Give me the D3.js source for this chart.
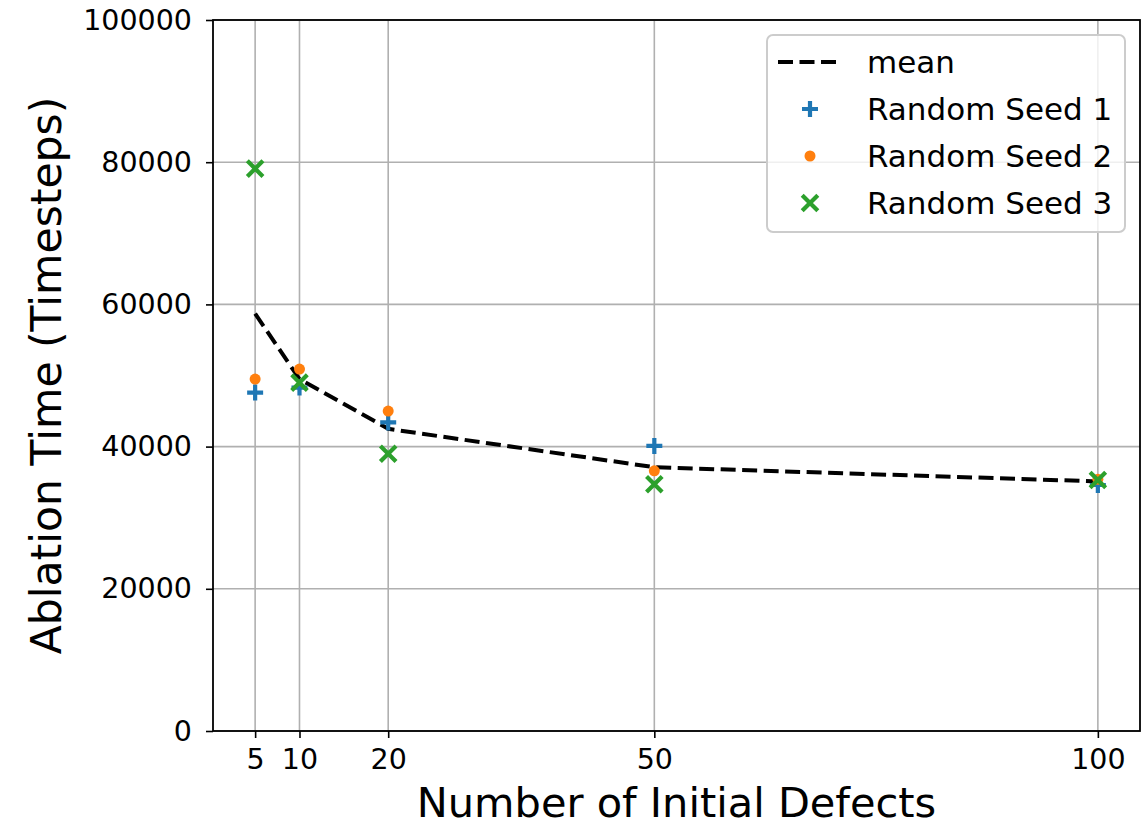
<!DOCTYPE html>
<html>
<head>
<meta charset="utf-8">
<script src="https://cdn.jsdelivr.net/npm/d3@7"></script>
<style>
  html, body { margin: 0; padding: 0; background: #fff; }
  svg { display: block; font-family: "DejaVu Sans", sans-serif; }
</style>
</head>
<body>
<svg id="chart" width="1145" height="829"></svg>
<script>
// ---- data ----
const defects = [5, 10, 20, 50, 100];
const seed1 = [47600, 48300, 43400, 40100, 34600];
const seed2 = [49500, 50900, 45000, 36600, 35400];
const seed3 = [79100, 49000, 39000, 34700, 35300];
const meanVals = [58700, 49500, 42500, 37100, 35100];
const xTicks = [5, 10, 20, 50, 100];
const yTicks = [0, 20000, 40000, 60000, 80000, 100000];
const legendLabels = ["mean", "Random Seed 1", "Random Seed 2", "Random Seed 3"];

const colors = { s1: "#1f77b4", s2: "#ff7f0e", s3: "#2ca02c" };

const svg = d3.select("#chart");
const L = 213, R = 1140, T = 20, B = 731;

const x = d3.scaleLinear().domain([0.25, 104.75]).range([L, R]);
const y = d3.scaleLinear().domain([0, 100000]).range([B, T]);

// grid
const grid = svg.append("g").attr("stroke", "#b0b0b0").attr("stroke-width", 1.6);
grid.selectAll("line.gx").data(xTicks).join("line")
  .attr("x1", d => x(d)).attr("x2", d => x(d)).attr("y1", T).attr("y2", B);
grid.selectAll("line.gy").data(yTicks).join("line")
  .attr("x1", L).attr("x2", R).attr("y1", d => y(d)).attr("y2", d => y(d));

// axes
const xAxis = d3.axisBottom(x).tickValues(xTicks).tickSize(7).tickPadding(11).tickFormat(d3.format("d"));
const yAxis = d3.axisLeft(y).tickValues(yTicks).tickSize(7).tickPadding(14).tickFormat(d3.format("d"));

const gx = svg.append("g").attr("transform", `translate(0,${B})`).call(xAxis);
const gy = svg.append("g").attr("transform", `translate(${L},0)`).call(yAxis);
[gx, gy].forEach(g => {
  g.select(".domain").remove();
  g.selectAll(".tick line").attr("stroke", "#000").attr("stroke-width", 1.6);
  g.selectAll(".tick text").attr("fill", "#000").attr("font-size", 28.5)
    .attr("font-family", "DejaVu Sans");
});

// spines
svg.append("rect").attr("x", L).attr("y", T).attr("width", R - L).attr("height", B - T)
  .attr("fill", "none").attr("stroke", "#000").attr("stroke-width", 1.8);

// mean line
const line = d3.line().x((d, i) => x(defects[i])).y(d => y(d));
svg.append("path").datum(meanVals).attr("d", line)
  .attr("fill", "none").attr("stroke", "#000").attr("stroke-width", 4)
  .attr("stroke-dasharray", "15,6.5");

// marker helpers
function plus(g, cx, cy, s, col) {
  g.append("path").attr("d", `M${cx - s},${cy}H${cx + s}M${cx},${cy - s}V${cy + s}`)
    .attr("stroke", col).attr("stroke-width", 4.2).attr("fill", "none");
}
function cross(g, cx, cy, s, col) {
  g.append("path").attr("d", `M${cx - s},${cy - s}L${cx + s},${cy + s}M${cx - s},${cy + s}L${cx + s},${cy - s}`)
    .attr("stroke", col).attr("stroke-width", 4.2).attr("fill", "none");
}
function dot(g, cx, cy, r, col) {
  g.append("circle").attr("cx", cx).attr("cy", cy).attr("r", r).attr("fill", col);
}

const m1 = svg.append("g");
seed1.forEach((v, i) => plus(m1, x(defects[i]), y(v), 8, colors.s1));
const m2 = svg.append("g");
seed2.forEach((v, i) => dot(m2, x(defects[i]), y(v), 5.5, colors.s2));
const m3 = svg.append("g");
seed3.forEach((v, i) => cross(m3, x(defects[i]), y(v), 7.8, colors.s3));

// axis labels
svg.append("text").attr("x", (L + R) / 2).attr("y", 817).attr("text-anchor", "middle")
  .attr("font-size", 41.5).attr("fill", "#000").text("Number of Initial Defects");
svg.append("text").attr("transform", `translate(61,${(T + B) / 2}) rotate(-90)`)
  .attr("text-anchor", "middle").attr("font-size", 42.5).attr("fill", "#000")
  .text("Ablation Time (Timesteps)");

// legend
const lg = svg.append("g");
lg.append("rect").attr("x", 767).attr("y", 35).attr("width", 358).attr("height", 197).attr("rx", 6)
  .attr("fill", "rgba(255,255,255,0.8)").attr("stroke", "#cccccc").attr("stroke-width", 2);
const rowsY = [62, 109, 156, 203];
lg.append("line").attr("x1", 778).attr("x2", 840).attr("y1", rowsY[0]).attr("y2", rowsY[0])
  .attr("stroke", "#000").attr("stroke-width", 4).attr("stroke-dasharray", "15,6.5");
plus(lg, 810, rowsY[1], 8, colors.s1);
dot(lg, 810, rowsY[2], 5.5, colors.s2);
cross(lg, 810, rowsY[3], 7.8, colors.s3);
lg.selectAll("text").data(legendLabels).join("text")
  .attr("x", 867).attr("y", (d, i) => rowsY[i]).attr("dy", "0.36em")
  .attr("font-size", 31).attr("fill", "#000").text(d => d);
</script>
</body>
</html>
